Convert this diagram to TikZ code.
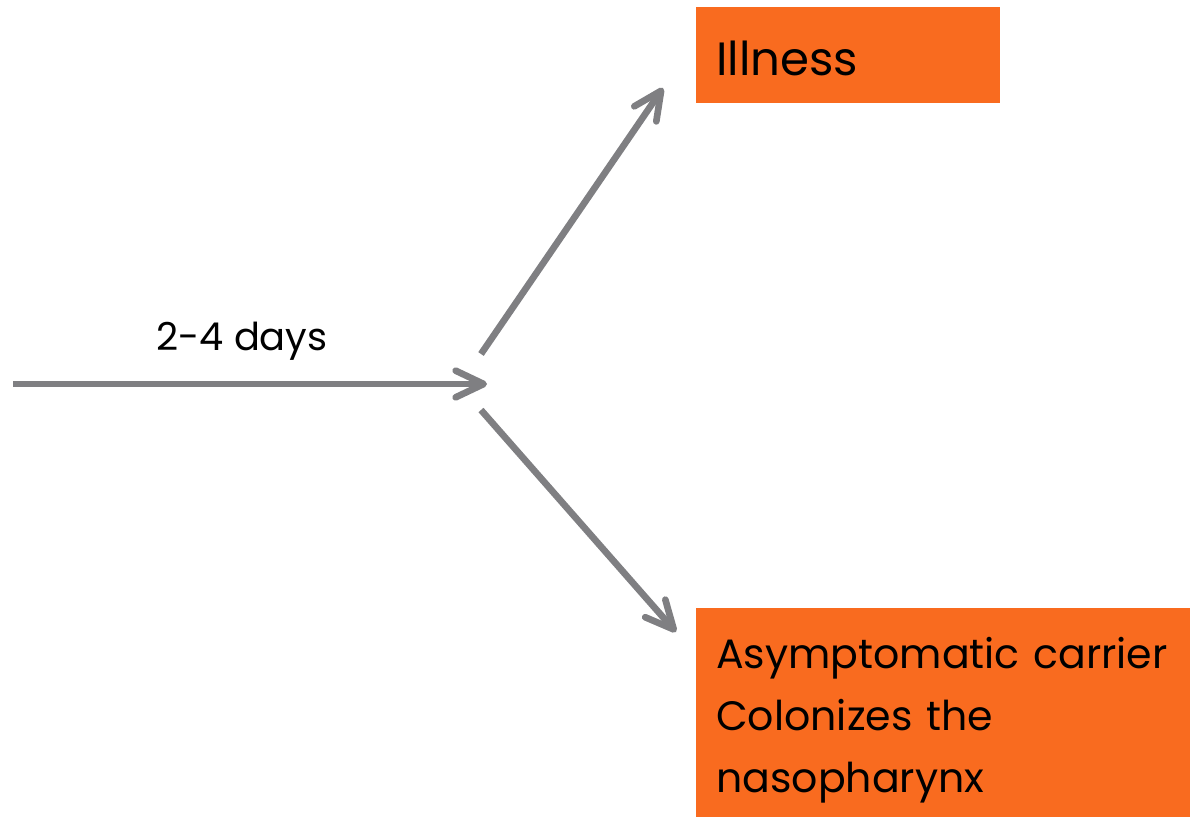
\documentclass[tikz,border=0pt]{standalone}
\usepackage{fontspec}
\setmainfont{Poppins}
\usetikzlibrary{arrows.meta,positioning}
\definecolor{arrowgray}{HTML}{7F7F82}
\definecolor{boxorange}{HTML}{F96B1F}
\tikzset{%
  arrow/.style={draw=arrowgray,line width=5pt,
    -{Straight Barb[length=21pt,width=20pt,line cap=round,line join=round]}},%
  box/.style={fill=boxorange,anchor=north west,align=left,inner xsep=15pt,inner ysep=0pt},%
  lbl/.style={font=\fontsize{28.8}{34}\selectfont,anchor=base}}
\begin{document}
\begin{tikzpicture}[x=0.75pt,y=-0.75pt]

  \useasboundingbox (0,0) rectangle (1190,817);%the page
  \coordinate (start) at (13,384);%start of the incubation arrow
  \coordinate (fork) at (487,384);%tip of the incubation arrow
  \coordinate (up1) at (481,354);%start of the upper branch
  \coordinate (up2) at (663,88);%tip of the upper branch
  \coordinate (down1) at (481,410);%start of the lower branch
  \coordinate (down2) at (676,632);%tip of the lower branch
  \node (illness) [box,minimum width=228pt,minimum height=72pt,text width=198pt,
    text height=33pt,text depth=2pt,
    font=\fontsize{35}{42}\selectfont] at (696,7) {Illness};%first outcome
  \node (carrier) [box,minimum width=380pt,minimum height=168pt,text width=350pt,
    font=\fontsize{30.8}{46.5}\selectfont] at (696,608)
    {Asymptomatic carrier\\Colonizes the\\nasopharynx};%second outcome
  \node (days) [lbl] at (242,350) {2-4 days};%time label
  \draw [arrow] (start) -- (fork);%incubation
  \draw [arrow] (up1) -- (up2);%towards illness
  \draw [arrow] (down1) -- (down2);%towards carriage
\end{tikzpicture}
\end{document}
